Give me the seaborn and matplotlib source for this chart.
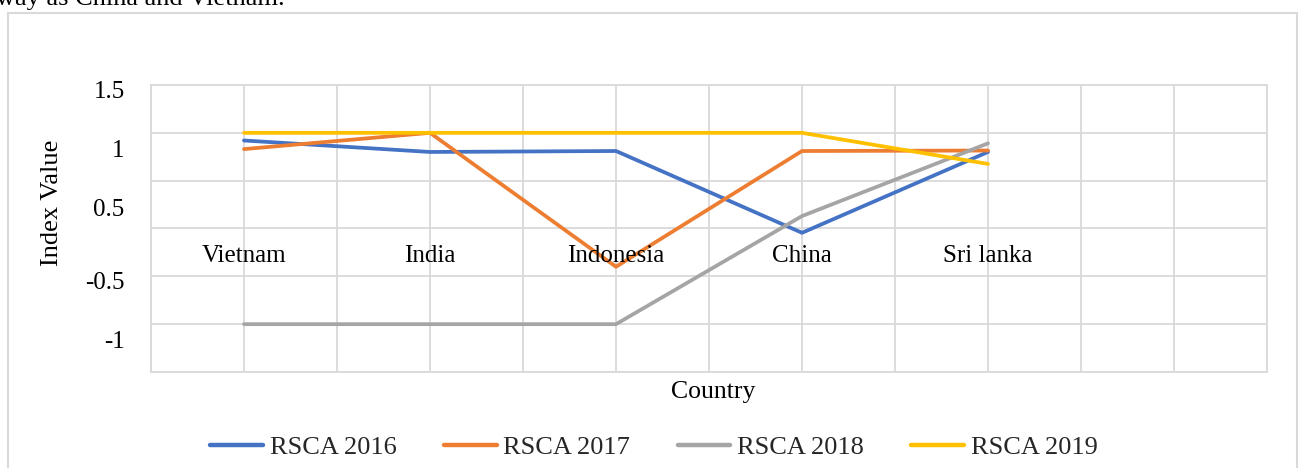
import numpy as np
import pandas as pd
import matplotlib
matplotlib.use("Agg")
import matplotlib.pyplot as plt
from matplotlib.lines import Line2D
import seaborn as sns

# ---- data ----
countries = ["Vietnam", "India", "Indonesia", "China", "Sri lanka"]
rsca_2016 = [0.92, 0.80, 0.81, -0.045, 0.80]
rsca_2017 = [0.83, 1.00, -0.40, 0.81, 0.815]
rsca_2018 = [-1.00, -1.00, -1.00, 0.13, 0.89]
rsca_2019 = [1.00, 1.00, 1.00, 1.00, 0.675]
series_names = ["RSCA 2016", "RSCA 2017", "RSCA 2018", "RSCA 2019"]
ytick_labels = ["1.5", "1", "0.5", "-0.5", "-1"]

# ---- styling ----
sns.set_theme(style="white")
plt.rcParams["font.family"] = ["Liberation Serif", "DejaVu Serif"]
GRID = "#d9d9d9"
palette = ["#4472C4", "#ED7D31", "#A5A5A5", "#FFC000"]

W, H = 1301, 468
fig = plt.figure(figsize=(W / 100, H / 100), dpi=100)
ax = fig.add_axes([151 / W, 1 - 372 / H, 1116 / W, 287 / H])

frames = []
for name, vals in zip(series_names, [rsca_2016, rsca_2017, rsca_2018, rsca_2019]):
    frames.append(pd.DataFrame({"pos": range(len(countries)), "value": vals, "Series": name}))
df = pd.concat(frames, ignore_index=True)

sns.lineplot(data=df, x="pos", y="value", hue="Series", hue_order=series_names,
             palette=palette, linewidth=2.7, ax=ax, legend=False, sort=False)

ax.set_xlim(-0.5, 5.5)
ax.set_ylim(-1.5, 1.5)

# grid lines (minor ticks), labels (major ticks placed as in the reference)
ax.set_xticks(np.arange(-0.5, 5.51, 0.5), minor=True)
ax.set_xticks([])
ax.set_yticks(np.arange(-1.5, 1.51, 0.5), minor=True)
ax.set_yticks([1.458, 0.839, 0.218, -0.548, -1.165])
ax.set_yticklabels(ytick_labels)
ax.grid(which="minor", color=GRID, linewidth=1.3)
ax.grid(which="major", visible=False)
ax.tick_params(which="both", length=0)
ax.tick_params(axis="y", labelsize=18, pad=19, colors="black")
for lab in ax.get_yticklabels():
    lab.set_horizontalalignment("right")
for sp in ax.spines.values():
    sp.set_color(GRID)
    sp.set_linewidth(1.3)
ax.set_xlabel("")
ax.set_ylabel("")

# category labels next to the zero line
for i, c in enumerate(countries):
    ax.annotate(c, xy=(i, 0), xytext=(0, -20), textcoords="offset points",
                ha="center", va="center", fontsize=18, color="black")

# axis titles
fig.text(52 / W, 1 - 203 / H, "Index Value", rotation=90, ha="center", va="center",
         fontsize=19, color="black")
fig.text(713 / W, 1 - 392 / H, "Country", ha="center", va="center",
         fontsize=18.5, color="black")

# legend
handles = [Line2D([0], [0], color=col, linewidth=3.2) for col in palette]
fig.legend(handles, series_names, loc="center", bbox_to_anchor=(654 / W, 1 - 447 / H),
           ncol=4, frameon=False, fontsize=19, handlelength=2.0, handletextpad=0.25,
           columnspacing=1.8)

# surrounding chart border and text from document
fig.add_artist(Line2D([8 / W, 8 / W], [-0.1, 1 - 13 / H], transform=fig.transFigure,
                      color=GRID, linewidth=1.5))
fig.add_artist(Line2D([8 / W, 1297 / W], [1 - 13 / H, 1 - 13 / H], transform=fig.transFigure,
                      color=GRID, linewidth=1.5))
fig.add_artist(Line2D([1297 / W, 1297 / W], [-0.1, 1 - 13 / H], transform=fig.transFigure,
                      color=GRID, linewidth=1.5))
fig.text(-4 / W, 1 - 5 / H, "way as China and Vietnam.", ha="left", va="baseline",
         fontsize=19, color="black")

fig.savefig("out.png", dpi=100)
